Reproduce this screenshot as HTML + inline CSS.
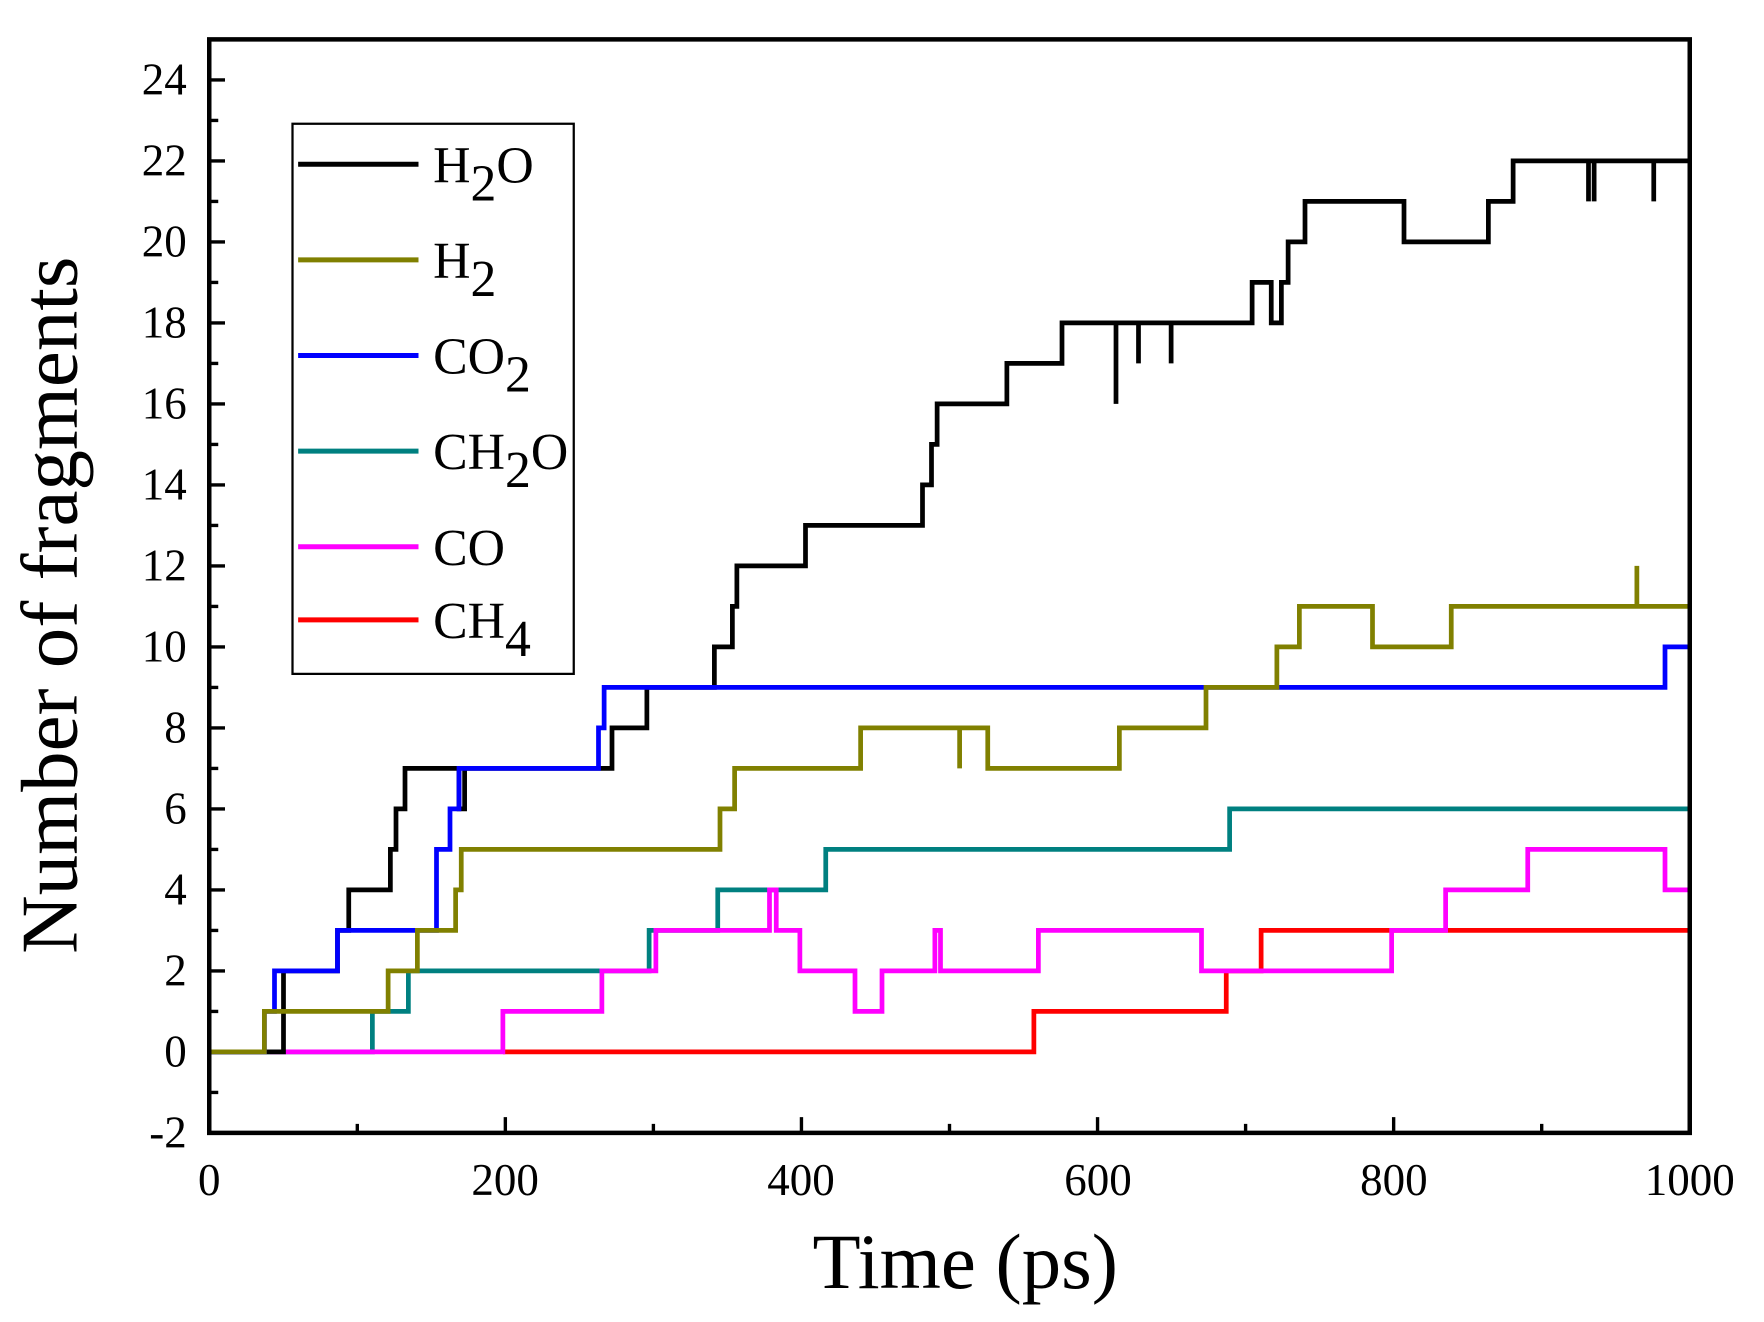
<!DOCTYPE html>
<html><head><meta charset="utf-8"><style>html,body{margin:0;padding:0;background:#fff}svg{display:block}</style></head><body>
<svg width="1764" height="1322" viewBox="0 0 1568 1175.1" xmlns="http://www.w3.org/2000/svg" font-family="'Liberation Serif', serif">
<rect x="0" y="0" width="1568" height="1176" fill="#fff"/>
<g stroke="#000" stroke-width="3">
<path d="M186 71h14M186 143h14M186 215h14M186 287h14M186 359h14M186 431h14M186 503h14M186 575h14M186 647h14M186 719h14M186 791h14M186 863h14M186 935h14M186 1007h14"/>
<path d="M186 107h8M186 179h8M186 251h8M186 323h8M186 395h8M186 467h8M186 539h8M186 611h8M186 683h8M186 755h8M186 827h8M186 899h8M186 971h8"/>
<path d="M317.6 1007v-8M449.2 1007v-14M580.8 1007v-8M712.4 1007v-14M844 1007v-8M975.6 1007v-14M1107.2 1007v-8M1238.8 1007v-14M1370.4 1007v-8"/>
</g>
<g fill="none" stroke-width="4.2" stroke-linejoin="miter">
<path stroke="#008080" d="M186 935 H331 V899 H363 V863 H577 V827 H638 V791 H734 V755 H1093 V719 H1502"/>
<path stroke="#ff0000" d="M447 935 H919 V899 H1090 V863 H1121 V827 H1502"/>
<path stroke="#ff00ff" d="M240 935 H447 V899 H535 V863 H583 V827 H684 V791 H690 V827 H711 V863 H760 V899 H784 V863 H831 V827 H836 V863 H923 V827 H1068 V863 H1237 V827 H1285 V791 H1358 V755 H1480 V791 H1502"/>
<path stroke="#000000" d="M186 935 H252 V863 H300 V827 H310 V791 H347 V755 H352 V719 H360 V683 H408 V719 H413 V683 H544 V647 H575 V611 H635 V575 H651 V539 H655 V503 H716 V467 H820 V431 H828 V395 H833 V359 H895 V323 H944 V287 H992 V359 V287 H1012 V323 V287 H1041 V323 V287 H1113 V251 H1130 V287 H1139 V251 H1145 V215 H1160 V179 H1248 V215 H1323 V179 H1345 V143 H1412 V179 V143 H1417 V179 V143 H1470 V179 V143 H1502"/>
<path stroke="#0000ff" d="M186 935 H235 V899 H244 V863 H300 V827 H388 V755 H400 V719 H408 V683 H532 V647 H537 V611 H1480 V575 H1502"/>
<path stroke="#808000" d="M186 935 H235 V899 H345 V863 H371 V827 H405 V791 H410 V755 H640 V719 H653 V683 H765 V647 H853 V683 V647 H878 V683 H995 V647 H1072 V611 H1135 V575 H1155 V539 H1220 V575 H1290 V539 H1455 V503 V539 H1502"/>
</g>
<rect x="186" y="35" width="1316" height="972" fill="none" stroke="#000" stroke-width="4"/>
<g font-size="40" text-anchor="end" fill="#000">
<text x="166" y="84">24</text><text x="166" y="156">22</text><text x="166" y="228">20</text><text x="166" y="300">18</text><text x="166" y="372">16</text><text x="166" y="444">14</text><text x="166" y="516">12</text><text x="166" y="588">10</text><text x="166" y="660">8</text><text x="166" y="732">6</text><text x="166" y="804">4</text><text x="166" y="876">2</text><text x="166" y="948">0</text><text x="166" y="1020">-2</text>
</g>
<g font-size="40" text-anchor="middle" fill="#000">
<text x="186" y="1062">0</text><text x="449" y="1062">200</text><text x="712" y="1062">400</text><text x="976" y="1062">600</text><text x="1239" y="1062">800</text><text x="1502" y="1062">1000</text>
</g>
<text x="858" y="1145" font-size="70" text-anchor="middle">Time (ps)</text>
<text transform="translate(68 538) rotate(-90)" font-size="72" text-anchor="middle">Number of fragments</text>
<rect x="260" y="110" width="250" height="489" fill="#fff" stroke="#000" stroke-width="2"/>
<g stroke-width="4.5">
<line x1="265" y1="146" x2="372" y2="146" stroke="#000"/>
<line x1="265" y1="231" x2="372" y2="231" stroke="#808000"/>
<line x1="265" y1="316" x2="372" y2="316" stroke="#0000ff"/>
<line x1="265" y1="401" x2="372" y2="401" stroke="#008080"/>
<line x1="265" y1="486" x2="372" y2="486" stroke="#ff00ff"/>
<line x1="265" y1="551" x2="372" y2="551" stroke="#ff0000"/>
</g>
<g font-size="46" fill="#000">
<text x="385" y="162">H<tspan dy="16">2</tspan><tspan dy="-16">O</tspan></text>
<text x="385" y="247">H<tspan dy="16">2</tspan></text>
<text x="385" y="332">CO<tspan dy="16">2</tspan></text>
<text x="385" y="417">CH<tspan dy="16">2</tspan><tspan dy="-16">O</tspan></text>
<text x="385" y="502">CO</text>
<text x="385" y="567">CH<tspan dy="16">4</tspan></text>
</g>
</svg>
</body></html>
